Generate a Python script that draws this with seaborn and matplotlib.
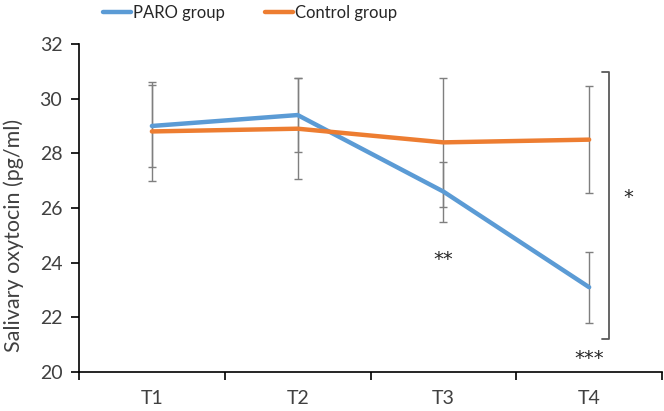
import matplotlib
matplotlib.use("Agg")
import matplotlib.pyplot as plt
import seaborn as sns
import pandas as pd
import numpy as np
from matplotlib.ticker import FixedLocator
from matplotlib.lines import Line2D

# Data
timepoints = ["T1", "T2", "T3", "T4"]
paro_mean = [29.0, 29.4, 26.6, 23.1]
paro_err = [1.5, 1.35, 1.1, 1.3]
control_mean = [28.8, 28.9, 28.4, 28.5]
control_err = [1.8, 1.85, 2.35, 1.95]
groups = ["PARO group", "Control group"]
colors = ["#5B9BD5", "#ED7D31"]

sns.set_theme(style="white")
plt.rcParams['font.family'] = ['Lato', 'DejaVu Sans']

df = pd.DataFrame({
    "time": timepoints * 2,
    "value": paro_mean + control_mean,
    "group": [groups[0]] * 4 + [groups[1]] * 4,
})

fig = plt.figure(figsize=(6.64, 4.11), dpi=100)
ax = fig.add_axes([0.119, 0.095, 0.878, 0.798])

sns.lineplot(data=df, x="time", y="value", hue="group", palette=colors,
             linewidth=3.2, ax=ax, legend=False, zorder=3, sort=False)

xpos = np.arange(len(timepoints))
ax.errorbar(xpos, paro_mean, yerr=paro_err, fmt='none', ecolor='#7f7f7f',
            elinewidth=1.0, capsize=3, capthick=1.0, zorder=2)
ax.errorbar(xpos, control_mean, yerr=control_err, fmt='none', ecolor='#7f7f7f',
            elinewidth=1.0, capsize=3, capthick=1.0, zorder=2)

ax.set_xlim(-0.5, 3.5)
ax.set_ylim(20, 32)
ax.set_yticks(np.arange(20, 33, 2))
ax.set_xticks(xpos)
ax.set_xticklabels(timepoints)
ax.xaxis.set_minor_locator(FixedLocator([-0.5, 0.5, 1.5, 2.5, 3.5]))
ax.tick_params(axis='x', which='major', length=0, pad=13, labelsize=14)
ax.tick_params(axis='x', which='minor', length=6, width=1.2, direction='out', color='black', bottom=True)
ax.tick_params(axis='y', which='major', length=6, width=1.2, direction='out', color='black',
               left=True, labelsize=14, pad=6)
for t in ax.get_xticklabels() + ax.get_yticklabels():
    t.set_color('#404040')

ax.set_xlabel("")
ax.set_ylabel("Salivary oxytocin (pg/ml)", fontsize=15.5, color='#404040')
ax.yaxis.set_label_coords(-0.094, 0.415)

for s in ["top", "right"]:
    ax.spines[s].set_visible(False)
for s in ["left", "bottom"]:
    ax.spines[s].set_color("black")
    ax.spines[s].set_linewidth(1.2)

# Bracket and significance marks
bx = 3.136
ax.plot([bx - 0.045, bx, bx, bx - 0.045], [30.98, 30.98, 21.2, 21.2],
        color='#595959', lw=1.3, clip_on=False, zorder=2)
star_font = ['DejaVu Sans']
ax.text(3.27, 26.4, "*", ha='center', va='center', fontsize=14, color='#262626', family=star_font)
ax.text(2.0, 24.1, "**", ha='center', va='center', fontsize=14, color='#262626', family=star_font)
ax.text(3.0, 20.5, "***", ha='center', va='center', fontsize=14, color='#262626', family=star_font)

# Legend
handles = [Line2D([0], [0], color=c, lw=3.2) for c in colors]
fig.legend(handles, groups, loc='upper center', bbox_to_anchor=(0.376, 1.025), ncol=2,
           frameon=False, fontsize=12, handlelength=1.7, handletextpad=0.1,
           columnspacing=2.4, labelcolor='#262626')

fig.savefig("out.png", dpi=100)
